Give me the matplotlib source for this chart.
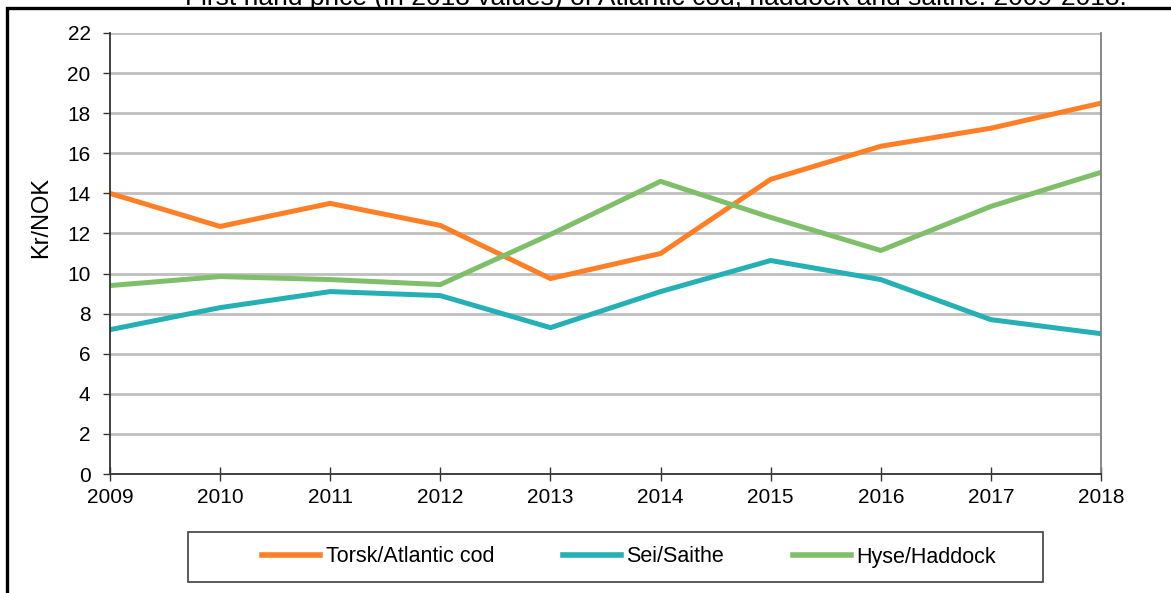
import matplotlib
matplotlib.use("Agg")
import matplotlib.pyplot as plt
from matplotlib.patches import Rectangle

plt.rcParams["font.family"] = ["Liberation Sans", "DejaVu Sans"]

# ---------------------------------------------------------------------------
# DATA
# ---------------------------------------------------------------------------
years = [2009, 2010, 2011, 2012, 2013, 2014, 2015, 2016, 2017, 2018]
cod = [14.0, 12.35, 13.5, 12.4, 9.75, 11.0, 14.7, 16.35, 17.25, 18.5]
saithe = [7.2, 8.3, 9.1, 8.9, 7.3, 9.1, 10.65, 9.7, 7.7, 7.0]
haddock = [9.4, 9.85, 9.7, 9.45, 11.95, 14.6, 12.8, 11.15, 13.35, 15.05]

series_names = ["Torsk/Atlantic cod", "Sei/Saithe", "Hyse/Haddock"]
series_colors = ["#FF7F27", "#24B0B4", "#80BF6A"]
title = "First hand price (in 2018 values) of Atlantic cod, haddock and saithe. 2009-2018."

W, H = 1171, 593
fig = plt.figure(figsize=(W / 100, H / 100), dpi=100)
ax = fig.add_axes([110 / W, 1 - 474 / H, (1101 - 110) / W, (474 - 33) / H])

for vals, name, col in zip([cod, saithe, haddock], series_names, series_colors):
    ax.plot(years, vals, color=col, lw=3.6, label=name)

ax.set_xlim(years[0], years[-1])
ax.set_ylim(0, 22)
ax.set_xticks(years)
ax.set_yticks(range(0, 23, 2))
ax.yaxis.grid(True, color="#BFBFBF", lw=2)
ax.set_axisbelow(True)
ax.tick_params(axis="both", labelsize=15, width=1, color="#333333")
ax.tick_params(axis="y", direction="out", length=5, pad=9)
ax.tick_params(axis="x", direction="inout", length=9.5, pad=5)
for s in ["left", "bottom"]:
    ax.spines[s].set_color("#333333")
    ax.spines[s].set_linewidth(1.3)
ax.spines["right"].set_color("#808080")
ax.spines["right"].set_linewidth(1.3)
ax.spines["top"].set_visible(False)
ax.set_ylabel("Kr/NOK", fontsize=17)
ax.yaxis.set_label_coords((52 - 110) / 991, (474 - 217) / 441)

# legend: box drawn by hand, entries placed inside
fig.patches.append(Rectangle((188 / W, 1 - 582 / H), (1043 - 188) / W, 50 / H,
                             transform=fig.transFigure, fill=False, ec="#404040", lw=1.2))
leg = fig.legend(loc="center left", bbox_to_anchor=(262 / W, 1 - 557 / H), ncol=3,
                 frameon=False, handlelength=2.7, handletextpad=0.25,
                 columnspacing=3.2, borderpad=0, borderaxespad=0,
                 prop={"size": 15.5})
for line in leg.get_lines():
    line.set_linewidth(4)

# outer frame, title sits above it and is clipped by the figure edge
fig.patches.append(Rectangle((7 / W, -0.05), (W + 10) / W, 1 - 8 / H + 0.05,
                             transform=fig.transFigure, fill=False, ec="black", lw=2.4))
fig.text(656 / W, 1 - 5 / H, title, ha="center", va="baseline", fontsize=19)

fig.savefig("out.png", dpi=100)
